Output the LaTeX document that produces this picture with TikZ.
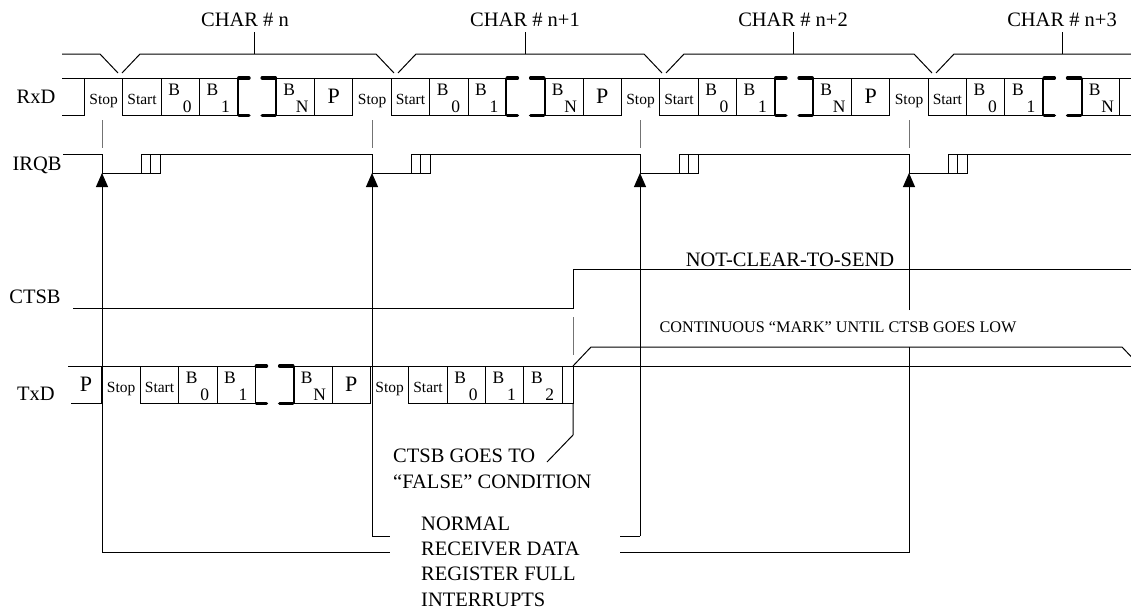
\documentclass[tikz,border=0pt]{standalone}
\usepackage{fontspec}
\setmainfont{Liberation Serif}
\usetikzlibrary{arrows.meta}

\newcommand{\cellw}{38.35}
\newcommand{\rowh}{37.5}

\tikzset{
  sig/.style={line width=1pt},
  tickline/.style={line width=1pt, black!55},
  gapmark/.style={line width=3.6pt, line cap=round},
  gapside/.style={line width=1.8pt},
  signame/.style={font=\fontsize{20.5}{24}\selectfont, inner sep=0pt, anchor=base},
  bitname/.style={font=\fontsize{15.5}{18}\selectfont, inner sep=0pt, anchor=base},
  bitsym/.style={font=\fontsize{17.5}{20}\selectfont, inner sep=0pt, anchor=base},
  parity/.style={font=\fontsize{22}{26}\selectfont, inner sep=0pt, anchor=base},
  note/.style={font=\fontsize{20.5}{25}\selectfont, inner sep=0pt, anchor=base west},
  irq/.style={line width=1pt, -{Triangle[width=12pt,length=14pt]}},
}

% B with its index below right: x of cell, row top, index, name
\newcommand{\bitlbl}[4]{%
  \node[bitsym] (#4) at ({#1+13},{#2+17}) {B};
  \node[bitsym] (#4i) at ({#1+26},{#2+34}) {#3};
}

% one character frame: Stop, Start, B0, B1, break, BN, P
\newcommand{\framechar}[3]{%
  \draw[sig] (#1,#2) -- ({#1+4*\cellw},#2);
  \draw[sig] ({#1+\cellw},{#2+\rowh}) -- ({#1+4*\cellw},{#2+\rowh});
  \foreach \d in {0,1,2,3}
    \draw[sig] ({#1+\d*\cellw},#2) -- ({#1+\d*\cellw},{#2+\rowh});
  \draw[sig] ({#1+5*\cellw},#2) -- ({#1+7*\cellw},#2) -- ({#1+7*\cellw},{#2+\rowh}) -- ({#1+5*\cellw},{#2+\rowh});
  \draw[sig] ({#1+6*\cellw},#2) -- ({#1+6*\cellw},{#2+\rowh});
  % break marks
  \draw[gapside] ({#1+4*\cellw},#2) -- ({#1+4*\cellw},{#2+\rowh});
  \draw[gapside] ({#1+5*\cellw},#2) -- ({#1+5*\cellw},{#2+\rowh});
  \draw[gapmark] ({#1+4*\cellw+1},#2) -- ({#1+4*\cellw+11},#2);
  \draw[gapmark] ({#1+4*\cellw+1},{#2+\rowh}) -- ({#1+4*\cellw+11},{#2+\rowh});
  \draw[gapmark] ({#1+5*\cellw-14},#2) -- ({#1+5*\cellw-1},#2);
  \draw[gapmark] ({#1+5*\cellw-14},{#2+\rowh}) -- ({#1+5*\cellw-1},{#2+\rowh});
  % cell texts
  \node[bitname] (#3stop) at ({#1+0.5*\cellw},{#2+26}) {Stop};
  \node[bitname] (#3start) at ({#1+1.5*\cellw},{#2+26}) {Start};
  \bitlbl{#1+2*\cellw}{#2}{0}{#3b0}
  \bitlbl{#1+3*\cellw}{#2}{1}{#3b1}
  \bitlbl{#1+5*\cellw}{#2}{N}{#3bn}
}

\begin{document}
\begin{tikzpicture}[x=1pt, y=-1pt]
\useasboundingbox (0,0) rectangle (1131,611);
\clip (0,0) rectangle (1131,611);

% character braces
\draw[sig] (62,54) -- (100,54) -- (118,73);
\draw[sig] (122,73) -- (140,54) -- (376,54) -- (394,73);
\draw[sig] (398,73) -- (416,54) -- (644,54) -- (662,73);
\draw[sig] (666,73) -- (684,54) -- (914,54) -- (932,73);
\draw[sig] (936,73) -- (954,54) -- (1131,54);
\draw[sig] (254,54) -- (254,32);
\draw[sig] (525,54) -- (525,32);
\draw[sig] (793,54) -- (793,32);
\draw[sig] (1062,54) -- (1062,32);
\node[signame] (charn) at (245,26) {CHAR \# n};
\node[signame] (charn1) at (525,26) {CHAR \# n+1};
\node[signame] (charn2) at (793,26) {CHAR \# n+2};
\node[signame] (charn3) at (1062,26) {CHAR \# n+3};

% signal names
\node[signame] (rxd) at (36,103) {RxD};
\node[signame] (irqb) at (37,170) {IRQB};
\node[signame] (ctsb) at (35,303) {CTSB};
\node[signame] (txd) at (36,400) {TxD};

% RxD
\draw[sig] (62,78) -- (84.5,78);
\draw[sig] (62,115.5) -- (84.5,115.5);
\foreach \s [count=\k] in {84.5,352.95,621.4,889.85}
  {\framechar{\s}{78}{rx\k}}
\foreach \s [count=\k] in {84.5,352.95,621.4}
  \node[parity] (rx\k p) at ({\s+6.5*\cellw},103) {P};

% marks between RxD and IRQB
\foreach \x in {102,372,640,909}
  \draw[tickline] (\x,120) -- (\x,148);

% IRQB
\coordinate (irq1) at (102,173);
\coordinate (irq2) at (372,173);
\coordinate (irq3) at (640,173);
\coordinate (irq4) at (909,173);
\draw[sig] (63,154) -- (102,154);
\foreach \d/\e in {102/372, 372/640, 640/909, 909/1131} {
  \draw[sig] (\d,154) -- (\d,173) -- (\d+58,173) -- (\d+58,154) -- (\e,154);
  \draw[sig] (\d+39,173) -- (\d+39,154) -- (\d+58,154);
  \draw[sig] (\d+48,154) -- (\d+48,173);
}

% CTSB
\coordinate (ctsup) at (573,269);
\draw[sig] (73,308) -- (573,308) -- (ctsup) -- (1131,269);
\node[signame] (ncts) at (790,266) {NOT-CLEAR-TO-SEND};
\draw[tickline] (573,317) -- (573,355);

% TxD
\draw[sig] (68,366) -- (102,366);
\draw[sig] (71,403.5) -- (102,403.5);
\node[parity] (tx0p) at (86,391) {P};
\framechar{102}{366}{tx1}
\node[parity] (tx1p) at ({102+6.5*\cellw},391) {P};
\draw[line width=2pt] (102,366) -- (102,403.5);
\draw[sig] (370.45,366) -- (1131,366);
\draw[sig] (408.8,403.5) -- (573,403.5);
\foreach \d in {0,1,2,3,4,5}
  \draw[sig] ({370.45+\d*\cellw},366) -- ({370.45+\d*\cellw},403.5);
\draw[sig] (573,366) -- (573,403.5);
\node[bitname] (tx2stop) at ({370.45+0.5*\cellw},392) {Stop};
\node[bitname] (tx2start) at ({370.45+1.5*\cellw},392) {Start};
\bitlbl{370.45+2*\cellw}{366}{0}{tx2b0}
\bitlbl{370.45+3*\cellw}{366}{1}{tx2b1}
\bitlbl{370.45+4*\cellw}{366}{2}{tx2b2}
\draw[sig] (573,366) -- (591,347) -- (1122,347) -- (1140,366);
\node[font=\fontsize{16.2}{18}\selectfont, inner sep=0pt, anchor=base] (mark) at (838,332)
  {CONTINUOUS “MARK” UNTIL CTSB GOES LOW};

% interrupts
\draw[irq] (102,552) -- (irq1);
\draw[sig] (102,552) -- (390,552);
\draw[irq] (372,536) -- (irq2);
\draw[sig] (372,536) -- (390,536);
\draw[irq] (640,536) -- (irq3);
\draw[sig] (620,536) -- (640,536);
\draw[sig] (620,552) -- (909,552) -- (909,347);
\draw[irq] (909,310) -- (irq4);

% CTSB false leader
\draw[sig] (573,403.5) -- (573,435) -- (547,462);
\node[note] (fal1) at (393,462) {CTSB GOES TO};
\node[note] (fal2) at (393,488) {“FALSE” CONDITION};
\node[note] (int1) at (421,530) {NORMAL};
\node[note] (int2) at (421,555) {RECEIVER DATA};
\node[note] (int3) at (421,580) {REGISTER FULL};
\node[note] (int4) at (421,606) {INTERRUPTS};

\end{tikzpicture}
\end{document}
